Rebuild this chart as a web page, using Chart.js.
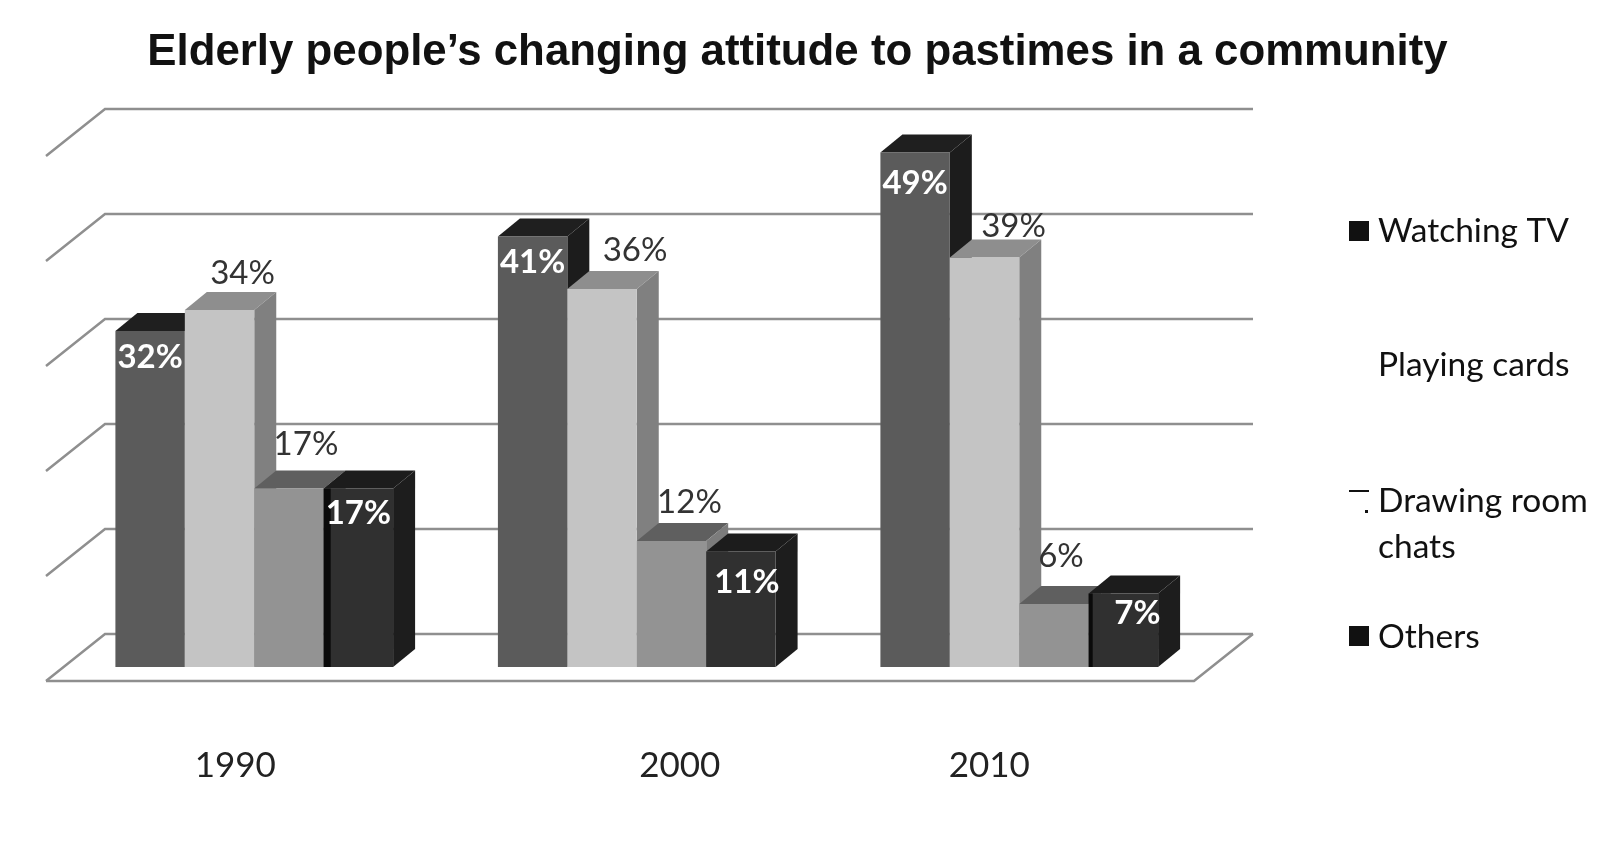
<!DOCTYPE html>
<html>
<head>
<meta charset="utf-8">
<title>Elderly people's changing attitude to pastimes</title>
<script src="https://cdn.jsdelivr.net/npm/chart.js@4/dist/chart.umd.min.js"></script>
<style>
    html, body { margin: 0; padding: 0; background: #fff; }
    #wrap { width: 1615px; height: 845px; }
</style>
</head>
<body>
<div id="wrap"><canvas id="chart" width="1615" height="845"></canvas></div>
<script>
const years = ['1990', '2000', '2010'];
const watchingTv = [32, 41, 49];
const playingCards = [34, 36, 39];
const drawingRoom = [17, 12, 6];
const others = [17, 11, 7];
const yTicks = [0, 10, 20, 30, 40, 50];

// look of each series: front face, top face, side face
const faces = [
    ['#5b5b5b', '#1f1f1f', '#1c1c1c'],
    ['#c4c4c4', '#8e8e8e', '#808080'],
    ['#939393', '#5f5f5f', '#7c7c7c'],
    ['#303030', '#1c1c1c', '#1d1d1d']
];

// hand placed labels, dx / dy from the top centre of each bar
const labelShift = [
    [[0, 26], [0, 26], [0, 31]],
    [[23, -37], [33, -39], [29, -31]],
    [[17, -44], [18, -39], [7, -48]],
    [[0, 25], [6, 31], [14, 20]]
];
const labelWhite = [true, false, false, true];
const yearShift = [-19, 43, -30];

// black edge on the left of the Others bars, seen in the scan
const scanEdge = [7, 0, 4];

const legendRows = [
    { lines: ['Watching TV'], baselines: [242], box: '#111', boxY: 221 },
    { lines: ['Playing cards'], baselines: [376], box: null },
    { lines: ['Drawing room', 'chats'], baselines: [512, 558], box: null, marks: true },
    { lines: ['Others'], baselines: [648], box: '#111', boxY: 626 }
];

const barDepth = { x: 22, y: -18 };
const wallDy = -33;
const floorDepth = { x: 59, y: 47 };
const gridColor = '#8f8f8f';

const wallPlugin = {
    id: 'wall',
    beforeDatasetsDraw(chart) {
        const ctx = chart.ctx;
        const yScale = chart.scales.y;
        const backLeft = 105;
        const backRight = 1253;
        ctx.save();
        ctx.strokeStyle = gridColor;
        ctx.lineWidth = 2.5;
        yScale.ticks.forEach(t => {
            const y = yScale.getPixelForValue(t.value) + wallDy;
            ctx.beginPath();
            ctx.moveTo(backLeft - floorDepth.x, y + floorDepth.y);
            ctx.lineTo(backLeft, y);
            ctx.lineTo(backRight, y);
            ctx.stroke();
        });
        // front edge of the floor and its right side
        const y0 = yScale.getPixelForValue(0) + wallDy;
        ctx.beginPath();
        ctx.moveTo(backLeft - floorDepth.x, y0 + floorDepth.y);
        ctx.lineTo(backRight - floorDepth.x, y0 + floorDepth.y);
        ctx.lineTo(backRight, y0);
        ctx.stroke();
        ctx.restore();
    }
};

// chart.js paints the last dataset first, the 3d look needs it the other way round
const boxesPlugin = {
    id: 'boxes',
    beforeDatasetDraw() { return false; },
    afterDatasetsDraw(chart) {
        const ctx = chart.ctx;
        chart.data.datasets.forEach((ds, i) => {
            const meta = chart.getDatasetMeta(i);
            meta.data.forEach((bar, j) => {
                const left = bar.x - bar.width / 2;
                const right = bar.x + bar.width / 2;
                ctx.fillStyle = faces[i][1];
                ctx.beginPath();
                ctx.moveTo(left, bar.y);
                ctx.lineTo(left + barDepth.x, bar.y + barDepth.y);
                ctx.lineTo(right + barDepth.x, bar.y + barDepth.y);
                ctx.lineTo(right, bar.y);
                ctx.closePath();
                ctx.fill();
                ctx.fillStyle = faces[i][2];
                ctx.beginPath();
                ctx.moveTo(right, bar.y);
                ctx.lineTo(right + barDepth.x, bar.y + barDepth.y);
                ctx.lineTo(right + barDepth.x, bar.base + barDepth.y);
                ctx.lineTo(right, bar.base);
                ctx.closePath();
                ctx.fill();
                bar.draw(ctx);
                if (i === 3 && scanEdge[j]) {
                    ctx.fillStyle = '#0a0a0a';
                    ctx.fillRect(left, bar.y, scanEdge[j], bar.base - bar.y);
                }
            });
        });
    }
};

const textPlugin = {
    id: 'texts',
    afterDraw(chart) {
        const ctx = chart.ctx;
        ctx.save();
        // value labels
        ctx.textAlign = 'center';
        ctx.textBaseline = 'middle';
        chart.data.datasets.forEach((ds, i) => {
            ctx.font = (labelWhite[i] ? 'bold ' : '') + '33px Lato';
            ctx.fillStyle = labelWhite[i] ? '#fff' : '#333';
            chart.getDatasetMeta(i).data.forEach((bar, j) => {
                ctx.fillText(ds.data[j] + '%', bar.x + labelShift[i][j][0], bar.y + labelShift[i][j][1]);
            });
        });
        // year labels, these do not sit under their groups in the source
        ctx.font = '35px Lato';
        ctx.fillStyle = '#222';
        years.forEach((year, i) => {
            ctx.fillText(year, chart.scales.x.getPixelForValue(i) + yearShift[i], 766);
        });
        // legend
        ctx.textAlign = 'left';
        ctx.textBaseline = 'alphabetic';
        ctx.font = '33.5px Lato';
        legendRows.forEach(row => {
            row.lines.forEach((line, k) => {
                ctx.fillStyle = '#111';
                ctx.fillText(line, 1378, row.baselines[k]);
            });
            if (row.box) {
                ctx.fillStyle = row.box;
                ctx.fillRect(1349, row.boxY, 20, 20);
            }
            if (row.marks) {
                ctx.fillStyle = '#111';
                ctx.fillRect(1349, 490, 20, 2);
                ctx.fillRect(1365, 510, 3, 3);
            }
        });
        ctx.restore();
    }
};

const titleShiftPlugin = {
    id: 'titleShift',
    afterLayout(chart) {
        chart.titleBlock.left = 0;
        chart.titleBlock.right = 1595;
    }
};

new Chart(document.getElementById('chart'), {
    type: 'bar',
    data: {
        labels: years,
        datasets: [
            { label: 'Watching TV', data: watchingTv, backgroundColor: faces[0][0] },
            { label: 'Playing cards', data: playingCards, backgroundColor: faces[1][0] },
            { label: 'Drawing room chats', data: drawingRoom, backgroundColor: faces[2][0] },
            { label: 'Others', data: others, backgroundColor: faces[3][0] }
        ]
    },
    options: {
        responsive: false,
        animation: false,
        layout: { padding: { left: 55, right: 404.5, top: 0, bottom: 170 } },
        datasets: { bar: { categoryPercentage: 0.726, barPercentage: 1 } },
        scales: {
            x: { grid: { display: false }, border: { display: false }, ticks: { display: false } },
            y: {
                min: yTicks[0],
                max: yTicks[yTicks.length - 1],
                afterBuildTicks: (scale) => { scale.ticks = yTicks.map(v => ({ value: v })); },
                grid: { display: false },
                border: { display: false },
                ticks: { display: false }
            }
        },
        plugins: {
            legend: { display: false },
            tooltip: { enabled: false },
            title: {
                display: true,
                text: 'Elderly people\u2019s changing attitude to pastimes in a community',
                color: '#111',
                font: { family: 'Liberation Sans', size: 43.8, weight: 'bold', lineHeight: 1.2 },
                padding: { top: 26.5, bottom: 62.9 }
            }
        }
    },
    plugins: [wallPlugin, boxesPlugin, textPlugin, titleShiftPlugin]
});
</script>
</body>
</html>
